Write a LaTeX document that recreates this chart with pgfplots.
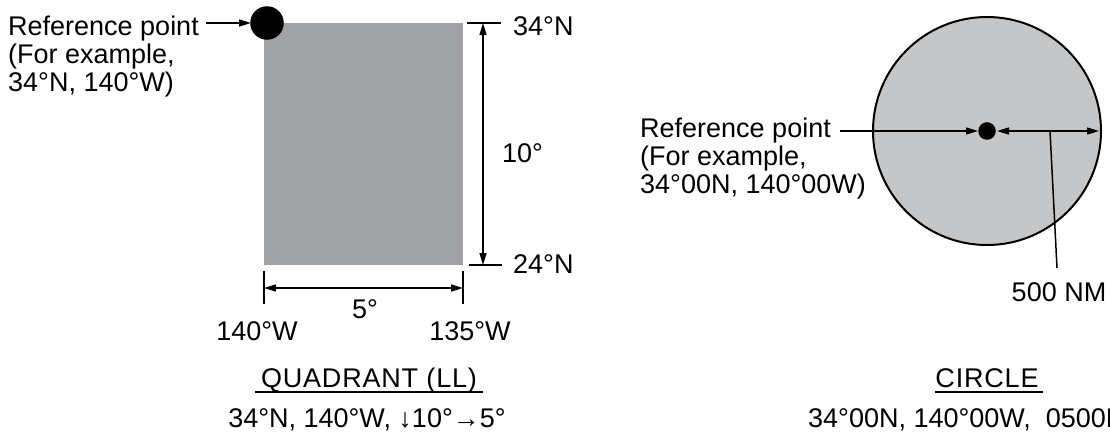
\documentclass[border=0pt]{standalone}
\usepackage{fontspec}
\setmainfont{Liberation Sans}
\usepackage{pgfplots}
\pgfplotsset{compat=1.18}
\usetikzlibrary{arrows.meta}

\definecolor{quadgray}{RGB}{161,162,165}
\definecolor{circgray}{RGB}{197,198,200}

\tikzset{
  tip/.style={-{Triangle[length=12pt,width=7pt]}},
  tips/.style={{Triangle[length=12pt,width=7pt]}-{Triangle[length=12pt,width=7pt]}},
  lbl/.style={inner sep=0pt, anchor=base west},
  lblc/.style={inner sep=0pt, anchor=base},
}

\begin{document}
\begin{tikzpicture}
\begin{axis}[
    at={(0,0)}, anchor=south west,
    width=1110pt, height=432pt, scale only axis,
    xmin=0, xmax=1110, ymin=0, ymax=432, y dir=reverse,
    hide axis, clip=false, clip marker paths=true,
    every axis plot/.append style={line width=1.5pt},
    font=\fontsize{27}{28}\selectfont,
]
% ---- quadrant
\addplot[draw=none, fill=quadgray] coordinates {(264,23)(463,23)(463,265)(264,265)};
\addplot[black, tip] coordinates {(206,23)(251,23)};
\addplot[black, only marks, mark=*, mark size=16pt, mark options={fill=black}] coordinates {(267,23)};
% vertical dimension
\addplot[black] coordinates {(467,23)(501,23)};
\addplot[black] coordinates {(469,265)(502,265)};
\addplot[black, tips] coordinates {(483,23)(483,265)};
% horizontal dimension
\addplot[black] coordinates {(264,271)(264,304)};
\addplot[black] coordinates {(463,271)(463,304)};
\addplot[black, tips] coordinates {(264,288)(463,288)};
% underline
\addplot[black, line width=2pt] coordinates {(255,392)(483,392)};

\node[lbl] at (8,35) {Reference point};
\node[lbl] at (8,63) {(For example,};
\node[lbl] at (8,91) {34°N, 140°W)};
\node[lbl] at (513,35) {34°N};
\node[lbl] at (513,273) {24°N};
\node[lbl] at (502,162) {10°};
\node[lblc] at (365,318) {5°};
\node[lblc] at (257,340) {140°W};
\node[lblc] at (470,340) {135°W};
\node[lblc] at (369,387) {\addfontfeature{LetterSpace=3}QUADRANT (LL)};
\node[lblc] at (367,427) {34°N, 140°W, ↓10°→5°};

% ---- circle
\addplot[black, only marks, mark=*, mark size=114pt, mark options={fill=circgray, draw=black, line width=2pt}] coordinates {(987,131)};
\addplot[black, tip] coordinates {(840,131)(978,131)};
\addplot[black, tips] coordinates {(997,131)(1099,131)};
\addplot[black, only marks, mark=*, mark size=8pt, mark options={fill=black}] coordinates {(987,131)};
\addplot[black] coordinates {(1050,131)(1057,268)};
\addplot[black, line width=2pt] coordinates {(935,392)(1043,392)};

\node[lbl] at (640,137) {Reference point};
\node[lbl] at (640,165) {(For example,};
\node[lbl] at (640,193) {34°00N, 140°00W)};
\node[lblc] at (1059,301) {500 NM};
\node[lblc] at (987,387) {\addfontfeature{LetterSpace=3}CIRCLE};
\node[lbl] at (808,427) {34°00N, 140°00W,\ \ 0500NM};
\end{axis}
\pgfresetboundingbox
\useasboundingbox (0,0) rectangle (1110pt,432pt);
\end{tikzpicture}
\end{document}
